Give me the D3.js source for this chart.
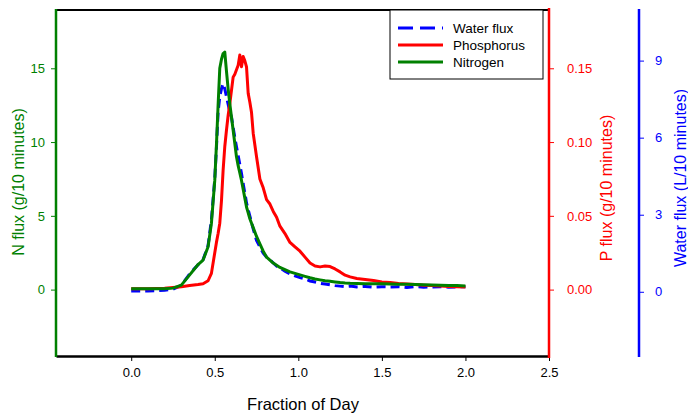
<!DOCTYPE html>
<html>
<head>
<meta charset="utf-8">
<script src="https://cdn.jsdelivr.net/npm/d3@7"></script>
<style>
  body { margin: 0; background: #fff; }
  text { font-family: "Liberation Sans", Arial, sans-serif; }
</style>
</head>
<body>
<script>
// shared x values (fraction of day)
var dayX = [0, 0.05, 0.1, 0.15, 0.2, 0.25, 0.3, 0.35, 0.4, 0.43, 0.46, 0.48, 0.5, 0.51, 0.52, 0.53, 0.54, 0.55,
    0.56, 0.57, 0.58, 0.59, 0.6, 0.61, 0.62, 0.63, 0.64, 0.65, 0.66, 0.67, 0.68, 0.69, 0.7, 0.71, 0.72, 0.73,
    0.75, 0.77, 0.79, 0.81, 0.83, 0.85, 0.87, 0.89, 0.92, 0.95, 0.98, 1.01, 1.04, 1.07, 1.1, 1.13, 1.16, 1.19,
    1.22, 1.25, 1.28, 1.31, 1.35, 1.4, 1.45, 1.5, 1.55, 1.6, 1.65, 1.7, 1.75, 1.8, 1.85, 1.9, 1.95, 2.0];

// water flux, L/10 minutes
var waterFlux = [0.03, 0.03, 0.03, 0.04, 0.06, 0.1, 0.25, 0.7, 1.05, 1.25, 1.8, 2.8, 4.4, 5.6, 7.0, 7.6, 7.9, 8.1,
    7.9, 7.6, 7.3, 7.0, 6.8, 6.4, 6.0, 5.65, 5.3, 4.95, 4.6, 4.2, 3.85, 3.46, 3.2, 2.95, 2.7, 2.45,
    2.0, 1.75, 1.5, 1.35, 1.25, 1.12, 1.0, 0.93, 0.8, 0.7, 0.62, 0.55, 0.5, 0.42, 0.38, 0.33, 0.3, 0.27,
    0.24, 0.22, 0.2, 0.22, 0.19, 0.21, 0.18, 0.2, 0.19, 0.2, 0.17, 0.2, 0.18, 0.19, 0.2, 0.18, 0.19, 0.2];

// phosphorus flux, g/10 minutes
var phosphorus = [0.0005, 0.0005, 0.0006, 0.0008, 0.001, 0.0015, 0.002, 0.0028, 0.0035, 0.004, 0.006, 0.011, 0.025,
    0.032, 0.038, 0.045, 0.06, 0.081, 0.097, 0.108, 0.118, 0.126, 0.135, 0.144, 0.146, 0.149, 0.152, 0.159,
    0.151, 0.158, 0.155, 0.151, 0.133, 0.127, 0.12, 0.106, 0.09, 0.075, 0.069, 0.061, 0.058, 0.053, 0.049,
    0.043, 0.038, 0.032, 0.029, 0.026, 0.022, 0.018, 0.016, 0.0154, 0.016, 0.0156, 0.014, 0.012, 0.0098,
    0.0086, 0.0075, 0.0068, 0.0062, 0.0052, 0.0048, 0.0042, 0.0038, 0.0034, 0.003, 0.0027, 0.0024, 0.0021,
    0.0019, 0.0017];

// nitrogen flux, g/10 minutes
var nitrogen = [0.05, 0.05, 0.06, 0.06, 0.05, 0.1, 0.3, 1.0, 1.7, 2.0, 2.9, 4.5, 7.4, 9.8, 12.5, 15.0, 15.6, 16.0,
    16.1, 14.8, 13.6, 12.6, 11.7, 10.8, 9.9, 9.0, 8.4, 7.9, 7.4, 6.8, 6.2, 5.6, 5.2, 4.8, 4.5, 4.2,
    3.6, 3.1, 2.6, 2.2, 2.0, 1.8, 1.65, 1.5, 1.35, 1.2, 1.1, 1.0, 0.9, 0.8, 0.72, 0.66, 0.6, 0.56,
    0.52, 0.48, 0.45, 0.43, 0.42, 0.4, 0.4, 0.39, 0.38, 0.37, 0.36, 0.35, 0.33, 0.32, 0.3, 0.28, 0.27, 0.25];

var xTicks = [0, 0.5, 1.0, 1.5, 2.0, 2.5];
var nTicks = [0, 5, 10, 15];
var pTicks = [0, 0.05, 0.10, 0.15];
var wTicks = [0, 3, 6, 9];

var GREEN = '#008000', RED = '#ff0000', BLUE = '#0000ff';

var svg = d3.select('body').append('svg')
    .attr('width', 688)
    .attr('height', 413);

var plotL = 56, plotR = 549, plotT = 10, plotB = 356;

var x = d3.scaleLinear().domain([-0.45, 2.5]).range([plotL, plotR]);
var yN = d3.scaleLinear().domain([-4.5, 18.95]).range([plotB, plotT]);
var yP = d3.scaleLinear().domain([-0.045, 0.1895]).range([plotB, plotT]);
var yW = d3.scaleLinear().domain([-2.5, 10.97]).range([plotB, plotT]);

function line(yScale, vals) {
    return d3.line()
        .x(function (d, i) { return x(dayX[i]); })
        .y(function (d) { return yScale(d); })(vals);
}

// curves
svg.append('path')
    .attr('d', line(yW, waterFlux))
    .attr('fill', 'none')
    .attr('stroke', BLUE)
    .attr('stroke-width', 3)
    .attr('stroke-dasharray', '9,5');

svg.append('path')
    .attr('d', line(yP, phosphorus))
    .attr('fill', 'none')
    .attr('stroke', RED)
    .attr('stroke-width', 3)
    .attr('stroke-linejoin', 'round');

svg.append('path')
    .attr('d', line(yN, nitrogen))
    .attr('fill', 'none')
    .attr('stroke', GREEN)
    .attr('stroke-width', 3)
    .attr('stroke-linejoin', 'round');

// frame top
svg.append('line')
    .attr('x1', plotL).attr('x2', plotR)
    .attr('y1', plotT).attr('y2', plotT)
    .attr('stroke', '#000').attr('stroke-width', 2);

// x axis
var xAxis = svg.append('g')
    .attr('transform', 'translate(0,' + plotB + ')')
    .call(d3.axisBottom(x).tickValues(xTicks).tickFormat(d3.format('.1f')).tickSize(5).tickSizeOuter(0));
xAxis.select('.domain').attr('stroke', '#000').attr('stroke-width', 2.5);
xAxis.selectAll('.tick line').attr('stroke', '#000');
xAxis.selectAll('.tick text').attr('font-size', 13).attr('fill', '#000').attr('dy', '1.0em');

svg.append('text')
    .attr('x', 303).attr('y', 410)
    .attr('text-anchor', 'middle')
    .attr('font-size', 16.5)
    .text('Fraction of Day');

// N axis (left)
var nAxis = svg.append('g')
    .attr('transform', 'translate(' + plotL + ',0)')
    .call(d3.axisLeft(yN).tickValues(nTicks).tickSize(5).tickSizeOuter(0));
nAxis.select('.domain').attr('stroke', GREEN).attr('stroke-width', 2.5)
    .attr('d', 'M0,' + (plotT - 1) + 'V' + (plotB + 1));
nAxis.selectAll('.tick line').attr('stroke', GREEN);
nAxis.selectAll('.tick text').attr('font-size', 13).attr('fill', GREEN).attr('x', -11);

svg.append('text')
    .attr('transform', 'translate(24,182) rotate(-90)')
    .attr('text-anchor', 'middle')
    .attr('font-size', 16)
    .attr('fill', GREEN)
    .text('N flux (g/10 minutes)');

// P axis (right)
var pAxis = svg.append('g')
    .attr('transform', 'translate(' + plotR + ',0)')
    .call(d3.axisRight(yP).tickValues(pTicks).tickFormat(d3.format('.2f')).tickSize(5).tickSizeOuter(0));
pAxis.select('.domain').attr('stroke', RED).attr('stroke-width', 2.5)
    .attr('d', 'M0,' + (plotT - 2) + 'V' + (plotB + 2));
pAxis.selectAll('.tick line').attr('stroke', RED);
pAxis.selectAll('.tick text').attr('font-size', 13).attr('fill', RED).attr('x', 18);

svg.append('text')
    .attr('transform', 'translate(612,188) rotate(-90)')
    .attr('text-anchor', 'middle')
    .attr('font-size', 16)
    .attr('fill', RED)
    .text('P flux (g/10 minutes)');

// water axis (far right)
var wAxis = svg.append('g')
    .attr('transform', 'translate(639,0)')
    .call(d3.axisRight(yW).tickValues(wTicks).tickSize(5).tickSizeOuter(0));
wAxis.select('.domain').attr('stroke', BLUE).attr('stroke-width', 2.5)
    .attr('d', 'M0,' + (plotT - 1) + 'V' + (plotB + 1));
wAxis.selectAll('.tick line').attr('stroke', BLUE);
wAxis.selectAll('.tick text').attr('font-size', 13).attr('fill', BLUE).attr('x', 16);

svg.append('text')
    .attr('transform', 'translate(686,178) rotate(-90)')
    .attr('text-anchor', 'middle')
    .attr('font-size', 16)
    .attr('fill', BLUE)
    .text('Water flux (L/10 minutes)');

// legend
var legendItems = [
    { label: 'Water flux', color: BLUE, dash: '15,7' },
    { label: 'Phosphorus', color: RED, dash: null },
    { label: 'Nitrogen', color: GREEN, dash: null }
];

var legend = svg.append('g').attr('transform', 'translate(390,10)');
legend.append('rect')
    .attr('width', 153).attr('height', 69)
    .attr('fill', '#fff')
    .attr('stroke', '#000').attr('stroke-width', 1);

var item = legend.selectAll('g.item')
    .data(legendItems)
    .enter().append('g')
    .attr('class', 'item')
    .attr('transform', function (d, i) { return 'translate(0,' + (18 + i * 17) + ')'; });

item.append('line')
    .attr('x1', 8).attr('x2', 53)
    .attr('stroke', function (d) { return d.color; })
    .attr('stroke-width', 3)
    .attr('stroke-dasharray', function (d) { return d.dash; });

item.append('text')
    .attr('x', 63)
    .attr('dy', '0.35em')
    .attr('font-size', 13.5)
    .text(function (d) { return d.label; });
</script>
</body>
</html>
